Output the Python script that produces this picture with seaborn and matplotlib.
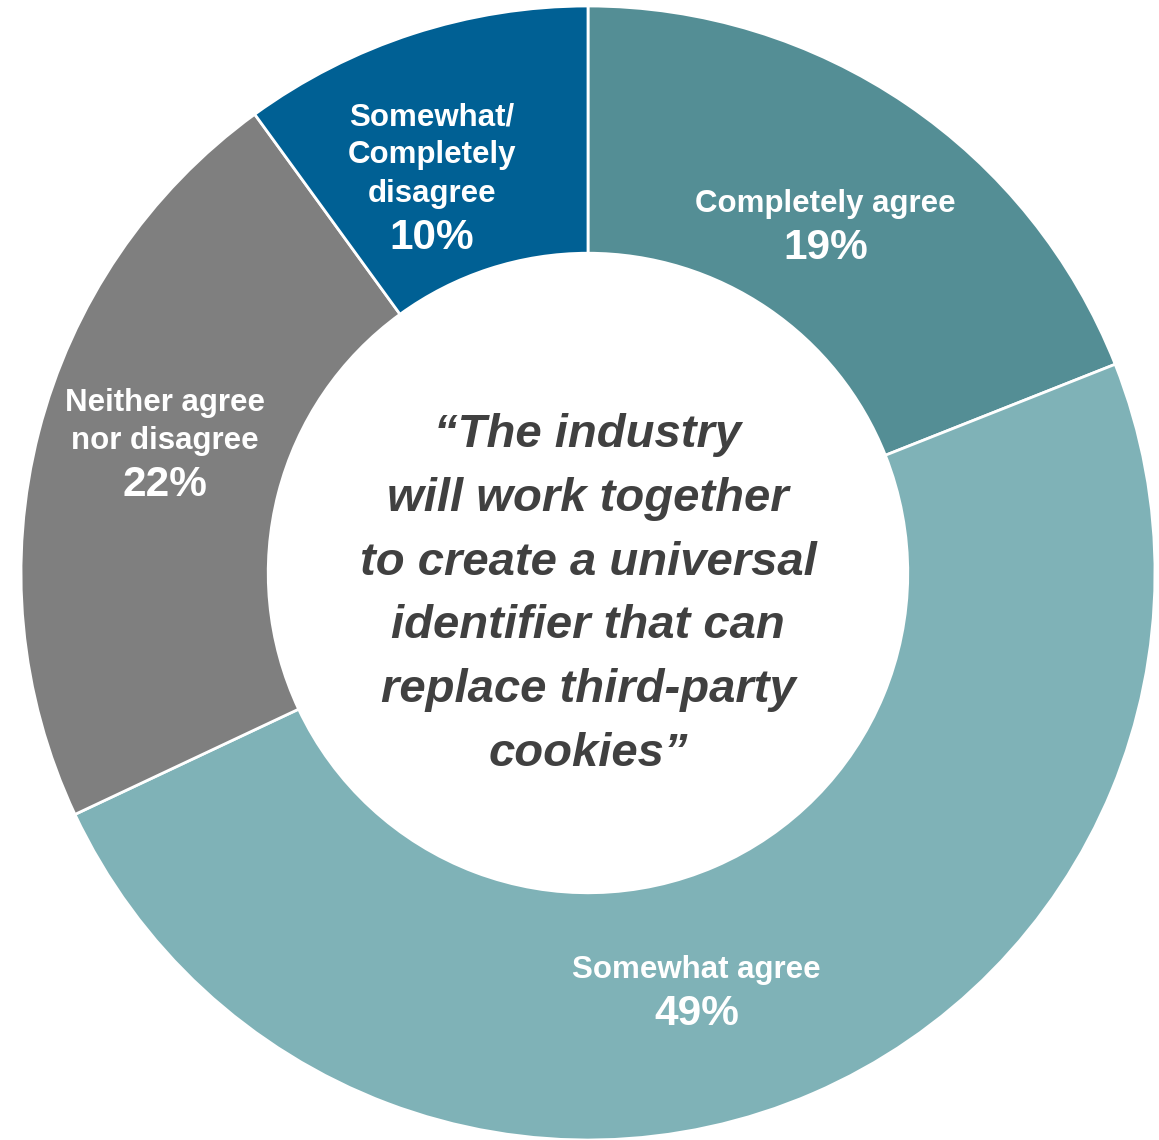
import numpy as np
import matplotlib
matplotlib.use("Agg")
import matplotlib.pyplot as plt
import seaborn as sns

sns.set_style("white")
plt.rcParams['font.family'] = ['Liberation Sans', 'DejaVu Sans']

# Data
categories = ["Completely agree", "Somewhat agree", "Neither agree\nnor disagree",
              "Somewhat/\nCompletely\ndisagree"]
values = [19, 49, 22, 10]
pct_labels = ["19%", "49%", "22%", "10%"]
colors = ["#548E95", "#7FB2B7", "#7F7F7F", "#006094"]
center_text = ("\u201cThe industry\nwill work together\nto create a universal\n"
               "identifier that can\nreplace third-party\ncookies\u201d")

# label placement tweaks (angle offset from wedge middle, radius)
angle_offsets = [0.0, -8.75, -0.5, 5.4]
label_radii = [0.746, 0.758, 0.772, 0.692]

W, H = 1159, 1140
fig = plt.figure(figsize=(W / 100, H / 100), dpi=100)
cx, cy, R = 588, 573, 567
ax = fig.add_axes([(cx - R) / W, (H - cy - R) / H, 2 * R / W, 2 * R / H])

wedges, _ = ax.pie(values, colors=colors, startangle=90, counterclock=False,
                   radius=1.0,
                   wedgeprops=dict(width=0.436, edgecolor="white", linewidth=2))
ax.set_xlim(-1, 1)
ax.set_ylim(-1, 1)
ax.set_aspect("equal")
ax.axis("off")

for w, name, pct, off, r in zip(wedges, categories, pct_labels, angle_offsets, label_radii):
    mid = np.deg2rad((w.theta1 + w.theta2) / 2 + off)
    x, y = r * np.cos(mid), r * np.sin(mid)
    ax.annotate(name, (x, y), xytext=(0, 3), textcoords="offset points",
                ha="center", va="bottom", color="white", fontsize=22.5,
                fontweight="bold", linespacing=1.36)
    ax.annotate(pct, (x, y), xytext=(0, -3.5), textcoords="offset points",
                ha="center", va="top", color="white", fontsize=30.5,
                fontweight="bold")

ax.text(0, -0.038, center_text, ha="center", va="center", color="#404040",
        fontsize=34, fontweight="bold", fontstyle="italic", linespacing=1.58)

fig.savefig("out.png", dpi=100)
